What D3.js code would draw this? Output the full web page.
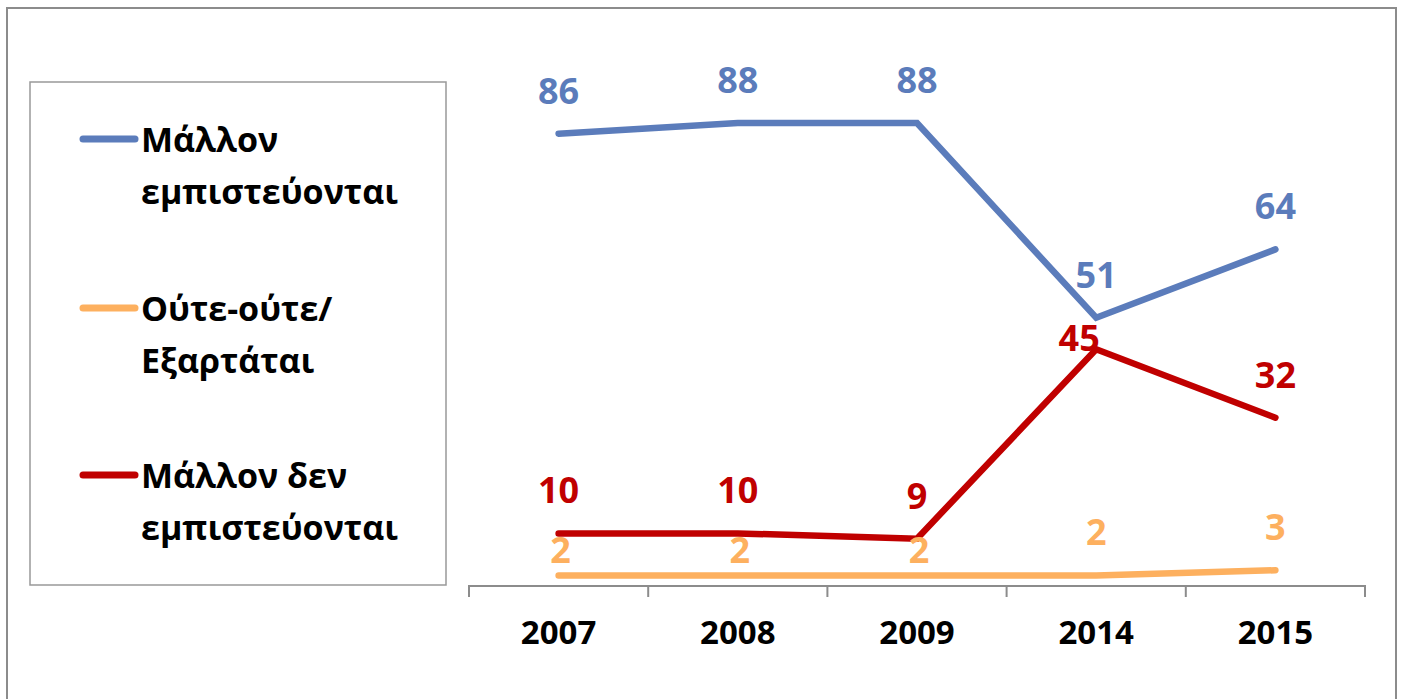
<!DOCTYPE html>
<html>
<head>
<meta charset="utf-8">
<script src="https://cdn.jsdelivr.net/npm/d3@7"></script>
<style>
  body { margin: 0; background: #fff; }
  text { font-family: "Open Sans", sans-serif; font-weight: 700; }
</style>
</head>
<body>
<div id="chart"></div>
<script>
// data
var years = ["2007", "2008", "2009", "2014", "2015"];
var trust = [86, 88, 88, 51, 64];
var neither = [2, 2, 2, 2, 3];
var distrust = [10, 10, 9, 45, 32];

var seriesNames = [
    ["Μάλλον", "εμπιστεύονται"],
    ["Ούτε-ούτε/", "Εξαρτάται"],
    ["Μάλλον δεν", "εμπιστεύονται"]
];
var colors = ["#5B7CBB", "#FDB05F", "#C00000"];

var W = 1403, H = 699;
var plot = {left: 469, right: 1365, top: 60, bottom: 586};

var svg = d3.select("#chart").append("svg")
    .attr("width", W)
    .attr("height", H);

// outer frame (bottom edge sits below the window)
svg.append("rect")
    .attr("x", 7).attr("y", 8)
    .attr("width", 1389).attr("height", 720)
    .attr("fill", "none").attr("stroke", "#8c8c8c").attr("stroke-width", 2);

var x = d3.scaleBand().domain(years).range([plot.left, plot.right]).padding(0);
var y = d3.scaleLinear().domain([0, 100]).range([plot.bottom, plot.top]);

var xAxis = d3.axisBottom(x).tickSize(11).tickFormat(d => d);
var gx = svg.append("g")
    .attr("class", "x axis")
    .attr("transform", "translate(0," + plot.bottom + ")")
    .call(xAxis);

// excel puts the ticks between the categories
gx.selectAll(".tick line").remove();
gx.select(".domain").attr("stroke", "#8c8c8c").attr("stroke-width", 2)
    .attr("d", "M" + plot.left + ",11V0H" + plot.right + "V11");
var bounds = x.domain().map(d => x(d)).concat([plot.right]);
gx.selectAll(".sep").data(bounds.slice(1, -1)).enter()
    .append("line")
    .attr("class", "sep")
    .attr("x1", d => d).attr("x2", d => d)
    .attr("y1", 0).attr("y2", 11)
    .attr("stroke", "#8c8c8c").attr("stroke-width", 2);
gx.selectAll(".tick text")
    .attr("y", 58).attr("dy", 0)
    .attr("fill", "#000")
    .style("font-size", "33px");

var series = [trust, neither, distrust];

var valueline = d3.line()
    .x((d, i) => x(years[i]) + x.bandwidth() / 2)
    .y(d => y(d));

series.forEach((s, k) => {
    svg.append("path")
        .attr("d", valueline(s))
        .attr("fill", "none")
        .attr("stroke", colors[k])
        .attr("stroke-width", 6.5)
        .attr("stroke-linecap", "round")
        .attr("stroke-linejoin", "miter");
});

// label nudges where the labels were moved by hand
var nudge = {
    "1-0": [2, 18], "1-1": [2, 18], "1-2": [2, 18],
    "2-3": [-17, 32]
};

series.forEach((s, k) => {
    svg.selectAll(".lbl" + k)
        .data(s)
        .enter()
        .append("text")
        .attr("class", "lbl" + k)
        .attr("x", (d, i) => x(years[i]) + x.bandwidth() / 2 + (nudge[k + "-" + i] ? nudge[k + "-" + i][0] : 0))
        .attr("y", (d, i) => y(d) - 30 + (nudge[k + "-" + i] ? nudge[k + "-" + i][1] : 0))
        .attr("text-anchor", "middle")
        .attr("fill", colors[k])
        .style("font-size", "36px")
        .text(d => d);
});

// legend
svg.append("rect")
    .attr("x", 30).attr("y", 82)
    .attr("width", 416).attr("height", 503)
    .attr("fill", "none").attr("stroke", "#999").attr("stroke-width", 1.5);

var legendY = [139, 308, 475];
seriesNames.forEach((lines, k) => {
    var g = svg.append("g").attr("transform", "translate(0," + legendY[k] + ")");
    g.append("line")
        .attr("x1", 83).attr("x2", 135)
        .attr("y1", 0).attr("y2", 0)
        .attr("stroke", colors[k])
        .attr("stroke-width", 7)
        .attr("stroke-linecap", "round");
    lines.forEach((t, j) => {
        g.append("text")
            .attr("x", 141)
            .attr("y", 13 + j * 52)
            .attr("fill", "#000")
            .style("font-size", "34px")
            .text(t);
    });
});
</script>
</body>
</html>
